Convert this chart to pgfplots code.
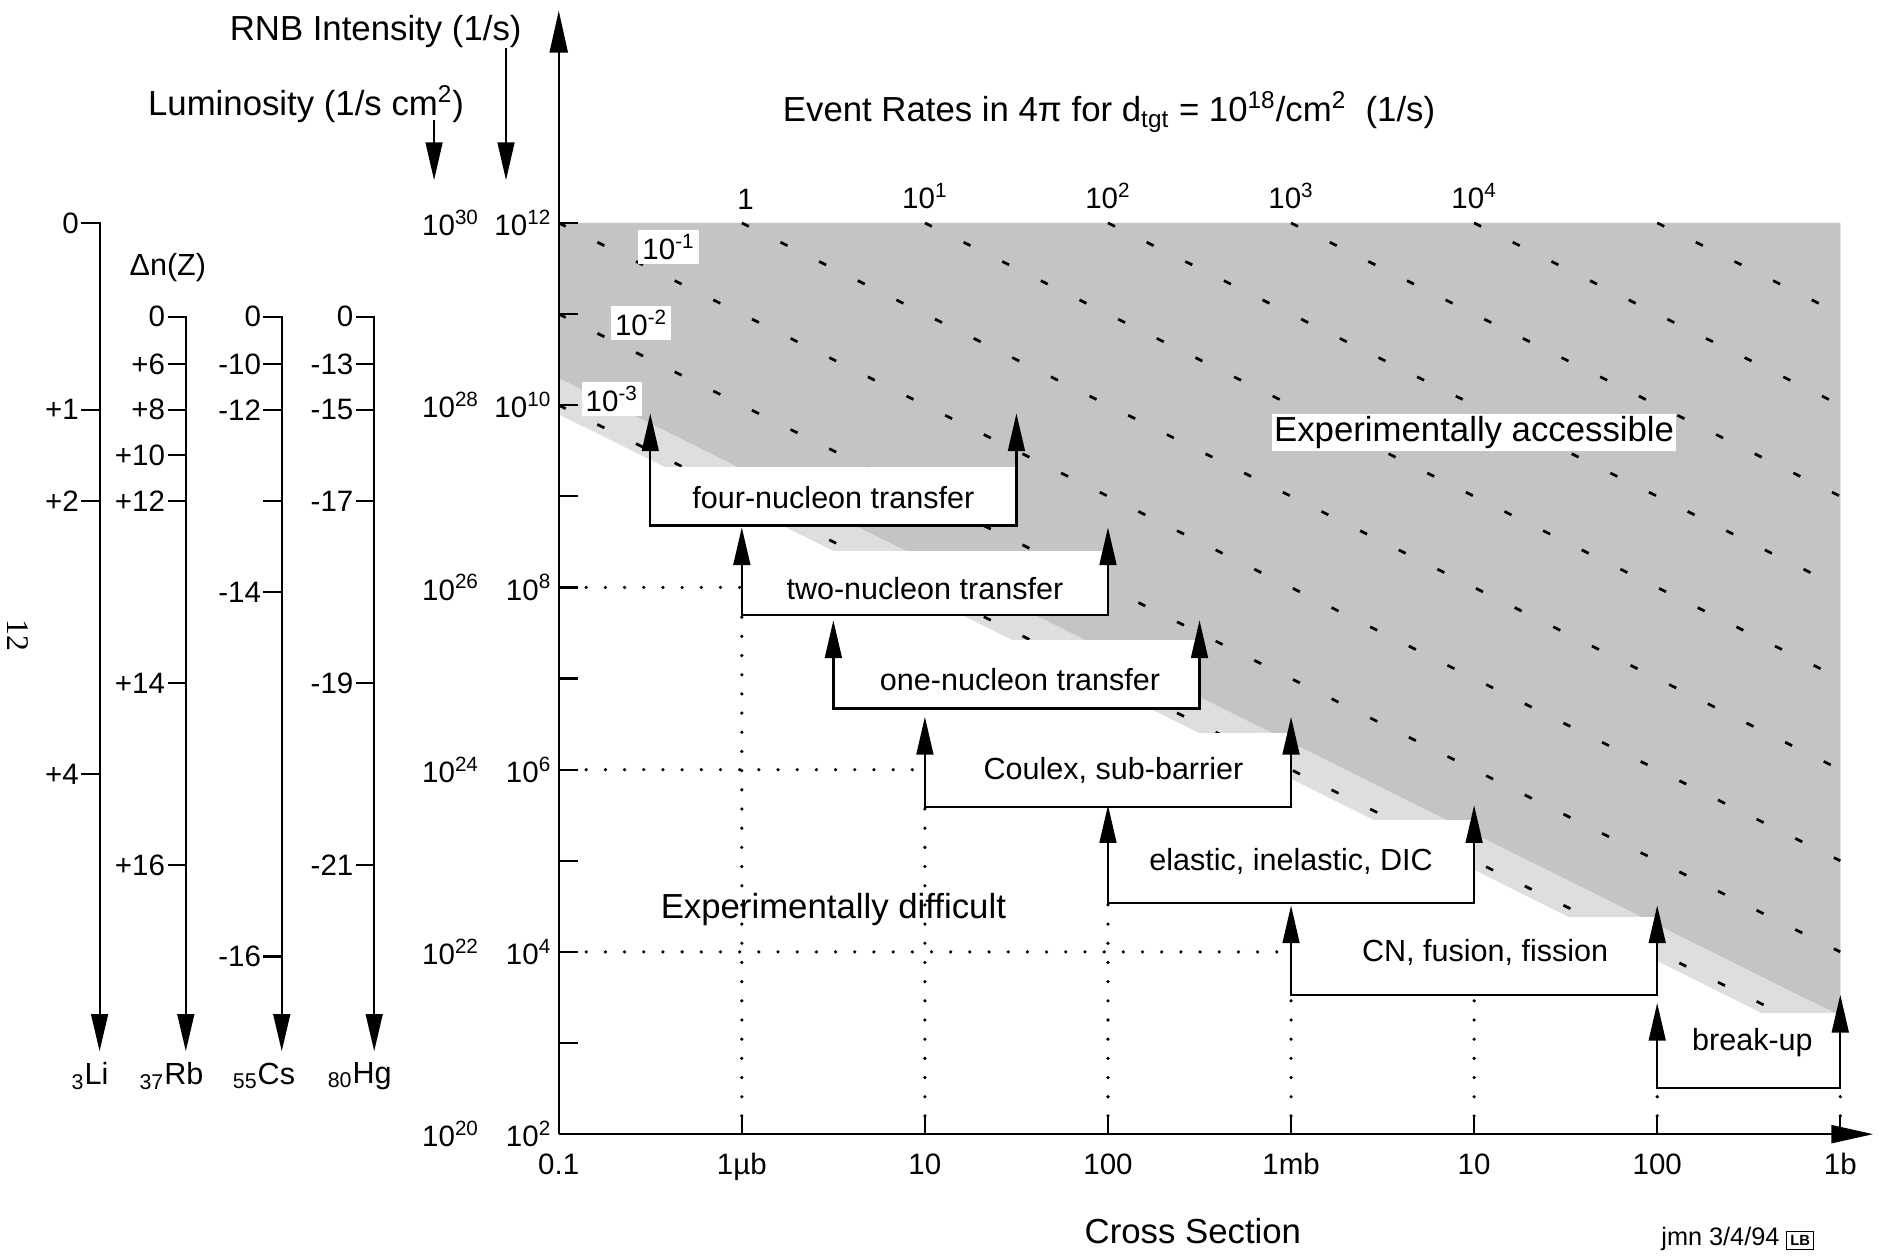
\documentclass[border=0pt]{standalone}
\usepackage{fontspec}
\setmainfont{Liberation Sans}
\newfontfamily\seriffont{Liberation Serif}
\usepackage{pgfplots}
\pgfplotsset{compat=1.18}
\usetikzlibrary{arrows.meta}
\newcommand{\fA}{\fontsize{16.5}{19}\selectfont}
\newcommand{\fB}{\fontsize{14.5}{17}\selectfont}
\newcommand{\fC}{\fontsize{14}{16}\selectfont}
\newcommand{\yl}[2]{10\textsuperscript{#1}\makebox[2.45em][r]{10\textsuperscript{#2}}}
\tikzset{
  tri/.tip={Triangle[length=6.3mm,width=2.8mm]},
  rate/.style={black, line width=1.3pt, dash pattern=on 1.3mm off 5.9mm},
  wbox/.style={draw=none, fill=white},
  dots/.style={black, line width=1.7pt, line cap=round, dash pattern=on 0pt off 3.2mm},
  brk/.style={black, line width=1.1pt, tri-tri},
  scl/.style={black, line width=1pt, -{Triangle[length=6.2mm,width=2.8mm]}},
  sl/.style={font=\fC, anchor=east, inner sep=1pt},
}
\begin{document}
\begin{tikzpicture}
\begin{axis}[
  x=3.054cm, y=1.52cm,
  xmin=-1, xmax=6.18, ymin=2, ymax=14.33,
  axis lines=left,
  axis on top,
  axis line style={line width=1.1pt, -{Triangle[length=7mm,width=3mm]}},
  clip=false,
  no markers,
  xtick={-1,0,...,6},
  xticklabels={0.1,1µb,10,100,1mb,10,100,1b},
  ytick={2,3,...,12},
  yticklabels={\yl{20}{2},,\yl{22}{4},,\yl{24}{6},,\yl{26}{8},,\yl{28}{10},,\yl{30}{12}},
  tick align=inside,
  major tick length=3.2mm,
  tick style={line width=1.1pt, black},
  every tick label/.append style={font=\fC},
  xticklabel style={yshift=-2mm},
  unbounded coords=jump,
]
% ---- accessible region (event rate >= 1e-3 /s)
\addplot[draw=none, fill=black!13] coordinates {(-1,9.9) (-1,12) (6,12) (6,2.9)};
\addplot[draw=none, fill=black!23] coordinates {(-1,10.3) (-1,12) (6,12) (6,3.3)};
% ---- event-rate contours 1e-3 ... 1e5 /s
\addplot[rate] coordinates {(-1,10) (6,3)};
\addplot[rate] coordinates {(-1,11) (6,4)};
\addplot[rate] coordinates {(-1,12) (6,5)};
\addplot[rate] coordinates {(0,12) (6,6)};
\addplot[rate] coordinates {(1,12) (6,7)};
\addplot[rate] coordinates {(2,12) (6,8)};
\addplot[rate] coordinates {(3,12) (6,9)};
\addplot[rate] coordinates {(4,12) (6,10)};
\addplot[rate] coordinates {(5,12) (6,11)};
% ---- white boxes behind the brackets
\addplot[wbox] coordinates {(-0.5,8.68) (1.5,8.68) (1.5,9.32) (-0.5,9.32)};
\addplot[wbox] coordinates {(0,7.70) (2,7.70) (2,8.40) (0,8.40)};
\addplot[wbox] coordinates {(0.5,6.67) (2.5,6.67) (2.5,7.42) (0.5,7.42)};
\addplot[wbox] coordinates {(1,5.59) (3,5.59) (3,6.40) (1,6.40)};
\addplot[wbox] coordinates {(2,4.54) (4,4.54) (4,5.45) (2,5.45)};
\addplot[wbox] coordinates {(3,3.53) (5,3.53) (5,4.38) (3,4.38)};
\addplot[wbox] coordinates {(5,2.51) (6,2.51) (6,3.33) (5,3.33)};
% ---- dotted guide lines
\addplot[dots] coordinates {(-0.85,8) (0,8)};
\addplot[dots] coordinates {(-0.85,6) (1,6)};
\addplot[dots] coordinates {(-0.85,4) (3,4)};
\addplot[dots] coordinates {(0,2.2) (0,7.70)};
\addplot[dots] coordinates {(1,2.2) (1,5.59)};
\addplot[dots] coordinates {(2,2.2) (2,4.54)};
\addplot[dots] coordinates {(3,2.2) (3,3.53)};
\addplot[dots] coordinates {(4,2.2) (4,3.53)};
\addplot[dots] coordinates {(5,2.2) (5,2.51)};
\addplot[dots] coordinates {(6,2.2) (6,2.51)};
% ---- reaction brackets
\addplot[brk] coordinates {(-0.5,9.91) (-0.5,8.68) (1.5,8.68) (1.5,9.91)};
\addplot[brk] coordinates {(0,8.66) (0,7.70) (2,7.70) (2,8.66)};
\addplot[brk] coordinates {(0.5,7.64) (0.5,6.67) (2.5,6.67) (2.5,7.64)};
\addplot[brk] coordinates {(1,6.58) (1,5.59) (3,5.59) (3,6.58)};
\addplot[brk] coordinates {(2,5.61) (2,4.54) (4,4.54) (4,5.61)};
\addplot[brk] coordinates {(3,4.51) (3,3.53) (5,3.53) (5,4.51)};
\addplot[brk] coordinates {(5,3.44) (5,2.51) (6,2.51) (6,3.53)};
% ---- bracket labels
\node[font=\fB] at (axis cs:0.5,8.99) {four-nucleon transfer};
\node[font=\fB] at (axis cs:1.0,7.99) {two-nucleon transfer};
\node[font=\fB] at (axis cs:1.52,6.99) {one-nucleon transfer};
\node[font=\fB] at (axis cs:2.03,5.99) {Coulex, sub-barrier};
\node[font=\fB] at (axis cs:3.0,4.99) {elastic, inelastic, DIC};
\node[font=\fB] at (axis cs:4.06,4.0) {CN, fusion, fission};
\node[font=\fB] at (axis cs:5.52,3.0) {break-up};
% ---- region labels
\node[font=\fA, fill=white, inner sep=1pt] at (axis cs:4.0,9.7) {Experimentally accessible};
\node[font=\fA] at (axis cs:0.5,4.47) {Experimentally difficult};
\node[font=\fC, fill=white, inner sep=2pt] at (axis cs:-0.40,11.74) {10\textsuperscript{-1}};
\node[font=\fC, fill=white, inner sep=2pt] at (axis cs:-0.55,10.90) {10\textsuperscript{-2}};
\node[font=\fC, fill=white, inner sep=2pt] at (axis cs:-0.71,10.07) {10\textsuperscript{-3}};
% ---- top event-rate scale
\node[font=\fC, anchor=south] at (axis cs:0.02,12.07) {1};
\node[font=\fC, anchor=south] at (axis cs:1,12.07) {10\textsuperscript{1}};
\node[font=\fC, anchor=south] at (axis cs:2,12.07) {10\textsuperscript{2}};
\node[font=\fC, anchor=south] at (axis cs:3,12.07) {10\textsuperscript{3}};
\node[font=\fC, anchor=south] at (axis cs:4,12.07) {10\textsuperscript{4}};
\node[font=\fA] at (axis cs:2.006,13.22) {Event Rates in 4π for d\textsubscript{tgt} = 10\textsuperscript{18}/cm\textsuperscript{2}\ \ (1/s)};
% ---- axis titles
\node[font=\fA] at (axis cs:-2.0,14.1) {RNB Intensity (1/s)};
\node[font=\fA] at (axis cs:-2.38,13.30) {Luminosity (1/s cm\textsuperscript{2})};
\addplot[black, line width=1pt, -tri] coordinates {(-1.288,13.92) (-1.288,12.47)};
\addplot[black, line width=1pt, -tri] coordinates {(-1.681,13.13) (-1.681,12.47)};
\node[font=\fA] at (axis cs:2.464,0.934) {Cross Section};
\node[font=\fontsize{12}{14}\selectfont, inner sep=0pt] at (axis cs:5.44,0.85) {jmn 3/4/94 {\setlength{\fboxsep}{1.5pt}\fbox{\fontsize{7}{7}\selectfont\bfseries LB}}};
\node[font=\seriffont\fontsize{15}{17}\selectfont, rotate=-90] at (axis cs:-3.953,7.47) {12};
% ---- Delta n(Z) scales
\node[font=\fB] at (axis cs:-3.135,11.51) {Δn(Z)};
\addplot[scl] coordinates {(-3.608,12) (-3.508,12) (-3.508,2.91)};
\addplot[scl] coordinates {(-3.137,10.97) (-3.037,10.97) (-3.037,2.91)};
\addplot[scl] coordinates {(-2.613,10.97) (-2.513,10.97) (-2.513,2.91)};
\addplot[scl] coordinates {(-2.108,10.97) (-2.008,10.97) (-2.008,2.91)};
\addplot[black, line width=1pt] coordinates {(-3.608,9.95) (-3.508,9.95) (-3.5,nan) (-3.608,8.95) (-3.508,8.95) (-3.5,nan) (-3.608,5.95) (-3.508,5.95)};
\addplot[black, line width=1pt] coordinates {(-3.137,10.45) (-3.037,10.45) (-3,nan) (-3.137,9.95) (-3.037,9.95) (-3,nan) (-3.137,9.45) (-3.037,9.45) (-3,nan) (-3.137,8.95) (-3.037,8.95) (-3,nan) (-3.137,6.95) (-3.037,6.95) (-3,nan) (-3.137,4.95) (-3.037,4.95)};
\addplot[black, line width=1pt] coordinates {(-2.613,10.45) (-2.513,10.45) (-2.5,nan) (-2.613,9.95) (-2.513,9.95) (-2.5,nan) (-2.613,8.95) (-2.513,8.95) (-2.5,nan) (-2.613,7.95) (-2.513,7.95) (-2.5,nan) (-2.613,3.95) (-2.513,3.95)};
\addplot[black, line width=1pt] coordinates {(-2.108,10.45) (-2.008,10.45) (-2,nan) (-2.108,9.95) (-2.008,9.95) (-2,nan) (-2.108,8.95) (-2.008,8.95) (-2,nan) (-2.108,6.95) (-2.008,6.95) (-2,nan) (-2.108,4.95) (-2.008,4.95)};
\node[sl] at (axis cs:-3.608,12) {0};
\node[sl] at (axis cs:-3.608,9.95) {+1};
\node[sl] at (axis cs:-3.608,8.95) {+2};
\node[sl] at (axis cs:-3.608,5.95) {+4};
\node[sl] at (axis cs:-3.137,10.97) {0};
\node[sl] at (axis cs:-3.137,10.45) {+6};
\node[sl] at (axis cs:-3.137,9.95) {+8};
\node[sl] at (axis cs:-3.137,9.45) {+10};
\node[sl] at (axis cs:-3.137,8.95) {+12};
\node[sl] at (axis cs:-3.137,6.95) {+14};
\node[sl] at (axis cs:-3.137,4.95) {+16};
\node[sl] at (axis cs:-2.613,10.97) {0};
\node[sl] at (axis cs:-2.613,10.45) {-10};
\node[sl] at (axis cs:-2.613,9.95) {-12};
\node[sl] at (axis cs:-2.613,7.95) {-14};
\node[sl] at (axis cs:-2.613,3.95) {-16};
\node[sl] at (axis cs:-2.108,10.97) {0};
\node[sl] at (axis cs:-2.108,10.45) {-13};
\node[sl] at (axis cs:-2.108,9.95) {-15};
\node[sl] at (axis cs:-2.108,8.95) {-17};
\node[sl] at (axis cs:-2.108,6.95) {-19};
\node[sl] at (axis cs:-2.108,4.95) {-21};
\node[font=\fB] at (axis cs:-3.56,2.64) {\textsubscript{3}Li};
\node[font=\fB] at (axis cs:-3.115,2.64) {\textsubscript{37}Rb};
\node[font=\fB] at (axis cs:-2.61,2.64) {\textsubscript{55}Cs};
\node[font=\fB] at (axis cs:-2.087,2.64) {\textsubscript{80}Hg};
% ---- page extent
\path (axis cs:-4.052,0.658) rectangle (axis cs:6.217,14.447);
\end{axis}
\end{tikzpicture}
\end{document}
